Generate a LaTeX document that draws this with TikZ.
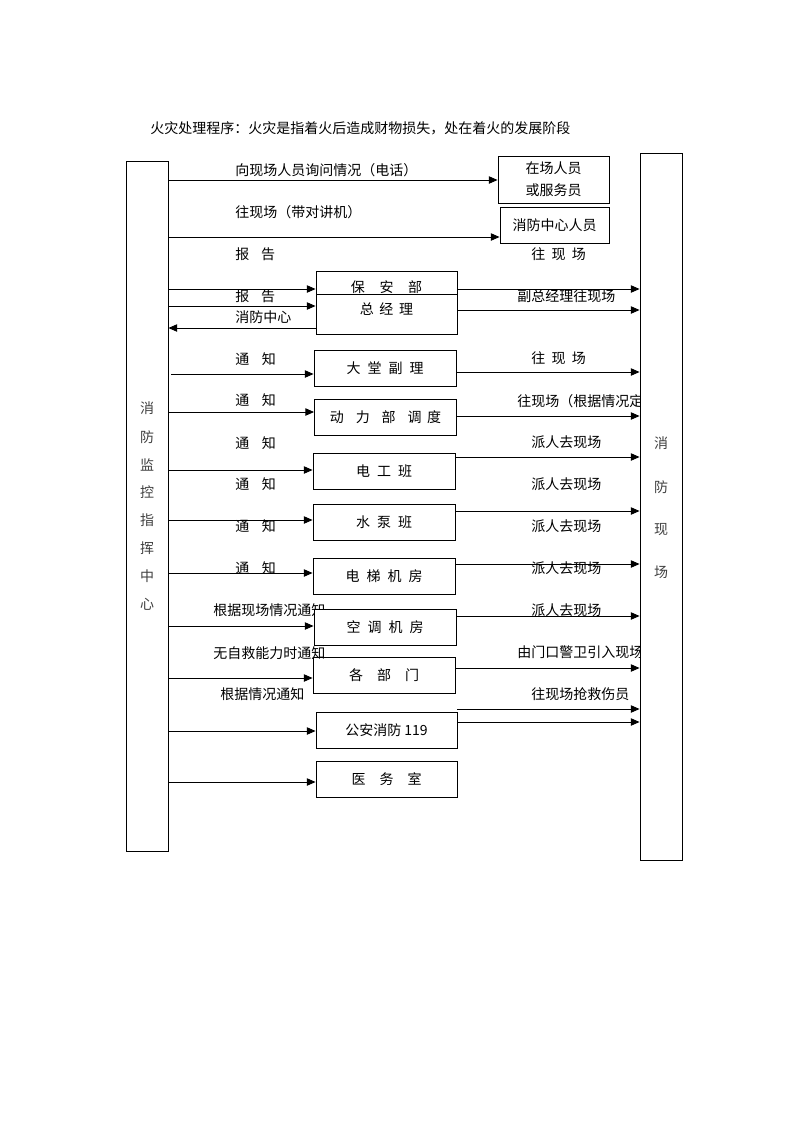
\documentclass[tikz,border=0pt]{standalone}
\usepackage{fontspec}
\setmainfont{Noto Sans CJK SC}
\usetikzlibrary{arrows.meta}
\begin{document}
\begin{tikzpicture}[x=0.75pt,y=-0.75pt,
  box/.style={draw,line width=0.65pt,fill=white,inner sep=0pt,font=\fontsize{10.5pt}{16.5pt}\selectfont},
  mbox/.style={box,minimum width=106.5pt,minimum height=27pt},
  txt/.style={inner sep=0pt,font=\fontsize{10.5pt}{12pt}\selectfont},
  lt/.style={txt,anchor=west},
  arr/.style={line width=0.7pt,-{Triangle[length=6.5pt,width=5.5pt]}}]
\useasboundingbox (0,0) rectangle (800,1132);

% title
\node[lt] (title) at (150,128) {火灾处理程序：火灾是指着火后造成财物损失，处在着火的发展阶段};

% left labels
\node[lt] (l1) at (235,170) {向现场人员询问情况（电话）};
\node[lt] (l2) at (235,212) {往现场（带对讲机）};
\node[lt] (l3) at (235,254) {报\hspace{0.85em}告};
\node[lt] (l4) at (235,296) {报\hspace{0.85em}告};
\node[lt] (l5) at (235,317) {消防中心};
\node[lt] (l6) at (235,359) {通\hspace{0.9em}知};
\node[lt] (l7) at (235,400) {通\hspace{0.9em}知};
\node[lt] (l8) at (235,443) {通\hspace{0.9em}知};
\node[lt] (l9) at (235,484) {通\hspace{0.9em}知};
\node[lt] (l10) at (235,526) {通\hspace{0.9em}知};
\node[lt] (l11) at (235,568) {通\hspace{0.9em}知};
\node[lt] (l12) at (213,610) {根据现场情况通知};
\node[lt] (l14) at (220,694) {根据情况通知};

% right labels
\node[lt] (r1) at (531,254) {往\hspace{0.45em}现\hspace{0.45em}场};
\node[lt] (r2) at (517,296) {副总经理往现场};
\node[lt] (r3) at (531,358) {往\hspace{0.45em}现\hspace{0.45em}场};
\node[lt] (r4) at (517,401) {往现场（根据情况定};
\node[lt] (r5) at (531,442) {派人去现场};
\node[lt] (r6) at (531,484) {派人去现场};
\node[lt] (r7) at (531,526) {派人去现场};
\node[lt] (r8) at (531,568) {派人去现场};
\node[lt] (r9) at (531,610) {派人去现场};
\node[lt] (r10) at (517,652) {由门口警卫引入现场};
\node[lt] (r11) at (531,694) {往现场抢救伤员};

% side boxes
\node[box,minimum width=31.5pt,minimum height=517.5pt] (lbox) at (147,506) {};
\node[box,minimum width=31.5pt,minimum height=530.25pt] (rbox) at (661,506.5) {};
\foreach \c/\yy in {消/408,防/437,监/465,控/492,指/520,挥/548,中/576,心/604}
  \node[txt,text=black!75] at (147,\yy) {\c};
\foreach \c/\yy in {消/443,防/487,现/530,场/572}
  \node[txt,text=black!75] at (661,\yy) {\c};

% top boxes
\node[box,minimum width=83.25pt,minimum height=35.25pt,align=center] (b1) at (553.5,179.5) {在场人员\\或服务员};
\node[box,minimum width=81.75pt,minimum height=27pt] (b2) at (554.5,225) {消防中心人员};

% middle boxes
\node[box,minimum width=105.75pt,minimum height=17.25pt] (bao) at (386.5,282.5) {};
\node[txt] (baot) at (386.5,287) {保\hspace{1.05em}安\hspace{1.05em}部};
\node[box,minimum width=105.75pt,minimum height=30pt] (zong) at (386.5,314) {};
\node[txt] (zongt) at (386.5,309) {总\hspace{0.4em}经\hspace{0.4em}理};
\node[mbox] (dt) at (385,368) {大\hspace{0.5em}堂\hspace{0.5em}副\hspace{0.5em}理};
\node[mbox] (dl) at (385.5,417) {动\hspace{0.85em}力\hspace{0.85em}部\hspace{0.85em}调\hspace{0.4em}度};
\node[mbox] (dg) at (384,471) {电\hspace{0.5em}工\hspace{0.5em}班};
\node[mbox] (sb) at (384,522) {水\hspace{0.5em}泵\hspace{0.5em}班};
\node[mbox] (dj) at (384,576) {电\hspace{0.5em}梯\hspace{0.5em}机\hspace{0.5em}房};
\node[mbox] (kt) at (385,627) {空\hspace{0.5em}调\hspace{0.5em}机\hspace{0.5em}房};
\node[mbox] (gb) at (384,675) {各\hspace{1em}部\hspace{1em}门};
\node[lt] (l13) at (213,653) {无自救能力时通知};
\node[mbox,minimum width=105.75pt] (ga) at (386.5,730.5) {公安消防 119};
\node[mbox,minimum width=105.75pt] (yw) at (386.5,779) {医\hspace{1em}务\hspace{1em}室};

% arrows from monitoring centre
\draw[arr] (lbox.east |- 0,180) -- (b1.west |- 0,180);
\draw[arr] (lbox.east |- 0,237) -- (b2.west |- 0,237);
\draw[arr] (lbox.east |- 0,289) -- (bao.west |- 0,289);
\draw[arr] (lbox.east |- 0,306) -- (zong.west |- 0,306);
\draw[arr] (zong.west |- 0,328) -- (lbox.east |- 0,328);
\draw[arr] ([xshift=2.25pt]lbox.east |- 0,374) -- (dt.west |- 0,374);
\draw[arr] (lbox.east |- 0,412) -- (dl.west |- 0,412);
\draw[arr] (lbox.east |- 0,470) -- (dg.west |- 0,470);
\draw[arr] (lbox.east |- 0,520) -- (sb.west |- 0,520);
\draw[arr] (lbox.east |- 0,573) -- (dj.west |- 0,573);
\draw[arr] (lbox.east |- 0,626) -- (kt.west |- 0,626);
\draw[arr] (lbox.east |- 0,678) -- (gb.west |- 0,678);
\draw[arr] (lbox.east |- 0,731) -- (ga.west |- 0,731);
\draw[arr] (lbox.east |- 0,782) -- (yw.west |- 0,782);

% arrows to the scene
\draw[arr] (bao.east |- 0,289) -- (rbox.west |- 0,289);
\draw[arr] (zong.east |- 0,310) -- (rbox.west |- 0,310);
\draw[arr] (dt.east |- 0,372) -- (rbox.west |- 0,372);
\draw[arr] (dl.east |- 0,416) -- (rbox.west |- 0,416);
\draw[arr] (dg.east |- 0,457) -- (rbox.west |- 0,457);
\draw[arr] (sb.east |- 0,511) -- (rbox.west |- 0,511);
\draw[arr] (dj.east |- 0,564) -- (rbox.west |- 0,564);
\draw[arr] (kt.east |- 0,616) -- (rbox.west |- 0,616);
\draw[arr] (gb.east |- 0,668) -- (rbox.west |- 0,668);
\draw[arr] (ga.east |- 0,709) -- (rbox.west |- 0,709);
\draw[arr] (ga.east |- 0,722) -- (rbox.west |- 0,722);
\end{tikzpicture}
\end{document}
